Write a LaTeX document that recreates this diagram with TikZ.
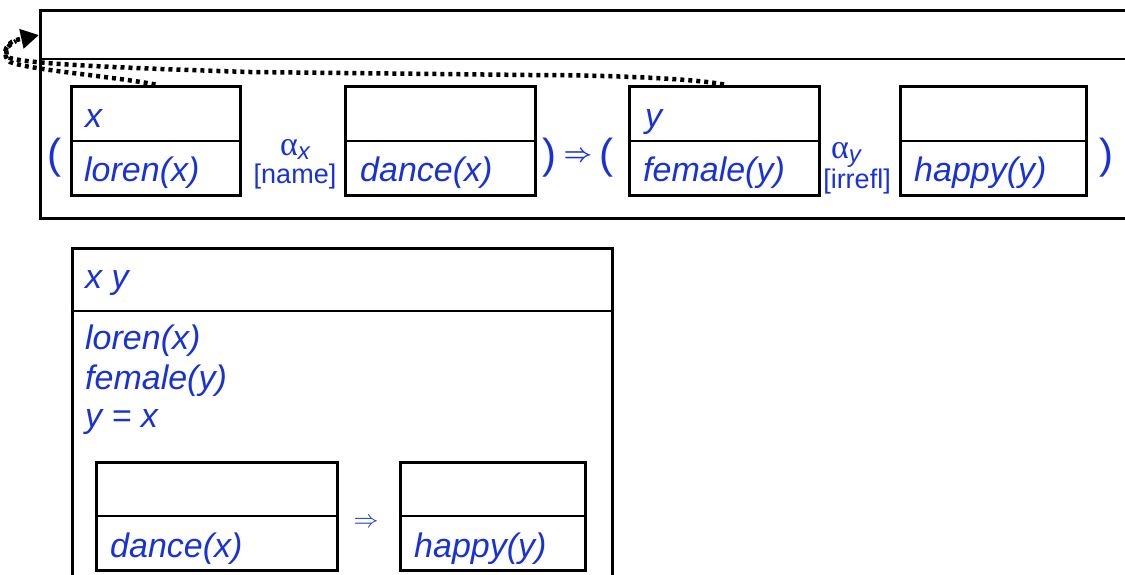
\documentclass[tikz,border=0pt]{standalone}
\usepackage{fontspec}
\setmainfont{Liberation Sans}
\newfontfamily\greekfont{Liberation Serif}
\usetikzlibrary{arrows.meta}

\definecolor{drsblue}{RGB}{25,50,215}

\begin{document}
\begin{tikzpicture}[x=1pt,y=-1pt,
  drsbox/.style={draw,line width=3pt,minimum height=109,inner sep=0},
  cond/.style={text=drsblue,anchor=base west,inner sep=0,font=\fontsize{34}{40}\selectfont\itshape},
  paren/.style={text=drsblue,inner sep=0,font=\fontsize{42}{46}\selectfont},
  rel/.style={text=drsblue,inner sep=0,font=\fontsize{27}{30}\selectfont},
  dots/.style={line width=4.5pt,dash pattern=on 4pt off 4pt}]
\useasboundingbox (0,0) rectangle (1125,574);
\clip (0,0) rectangle (1125,574);

% la grande boite du haut
\node[draw,line width=3pt,minimum width=1100,minimum height=208,inner sep=0] (top) at (590,114) {};
\draw[line width=1.5pt] (top.west |- 0,59) -- (top.east |- 0,59);
\coordinate (tgt) at (39,35);

% les sous-boites
\node[drsbox,minimum width=169] (xbox) at (155.5,140.5) {};
\node[drsbox,minimum width=190] (dbox) at (440,140.5) {};
\node[drsbox,minimum width=190] (ybox) at (724,140.5) {};
\node[drsbox,minimum width=186] (hbox) at (993,141) {};
\foreach \b in {xbox,dbox,ybox,hbox}
  \draw[line width=2pt] (\b.west) -- (\b.east);

\node[cond] (xref) at (85,127) {x};
\node[cond] (loren) at (84,181) {loren(x)};
\node[cond] (dance) at (360,181) {dance(x)};
\node[cond] (yref) at (645,127) {y};
\node[cond] (female) at (643,181) {female(y)};
\node[cond] (happy) at (914,181) {happy(y)};

\node[paren] (p1) at (54,158) {(};
\node[paren] (p2) at (549,158) {)};
\node[rel,font=\fontsize{36}{38}\selectfont\mathversion{bold}] (imp) at (578,157) {$\Rightarrow$};
\node[paren] (p3) at (606,158) {(};
\node[paren] (p4) at (1106,158) {)};

\node[rel,anchor=base] (ax) at (295,155) {{\greekfont\fontsize{34}{36}\selectfont α}\raisebox{-4pt}{\fontsize{24}{26}\selectfont\itshape x}};
\node[rel,anchor=base] (nm) at (295,183) {[name]};
\node[rel,anchor=base] (ay) at (846,158) {{\greekfont\fontsize{34}{36}\selectfont α}\raisebox{-4pt}{\fontsize{24}{26}\selectfont\itshape y}};
\node[rel,anchor=base] (ir) at (857,188) {[irrefl]};

% les fleches
\draw[dots,-{Triangle[length=18pt,width=19pt]}] (xbox.north) .. controls (110,76) and (30,70) .. (10,62)
  .. controls (2,56) and (4,44) .. (16,40) -- (tgt);
\draw[dots] (ybox.north) .. controls (690,78) and (600,75) .. (530,75) -- (250,72)
  .. controls (120,68) and (30,64) .. (10,58) .. controls (4,55) and (4,47) .. (16,41);

% la boite du bas
\node[draw,line width=3pt,minimum width=540,minimum height=372,inner sep=0] (bot) at (342,434) {};
\draw[line width=1.5pt] (bot.west |- 0,311) -- (bot.east |- 0,311);
\node[cond] (xy) at (85,288) {x y};
\node[cond] (c1) at (85,349) {loren(x)};
\node[cond] (c2) at (85,389) {female(y)};
\node[cond] (c3) at (85,427) {y = x};

\node[drsbox,minimum width=241,minimum height=108] (dbox2) at (216.5,516) {};
\node[drsbox,minimum width=185,minimum height=108] (hbox2) at (492.5,516) {};
\draw[line width=2pt] (dbox2.west) -- (dbox2.east);
\draw[line width=2pt] (hbox2.west) -- (hbox2.east);
\node[cond] (d2) at (110,557) {dance(x)};
\node[cond] (h2) at (414,557) {happy(y)};
\node[rel,font=\fontsize{30}{32}\selectfont] (imp2) at (366,523) {$\Rightarrow$};
\end{tikzpicture}
\end{document}
